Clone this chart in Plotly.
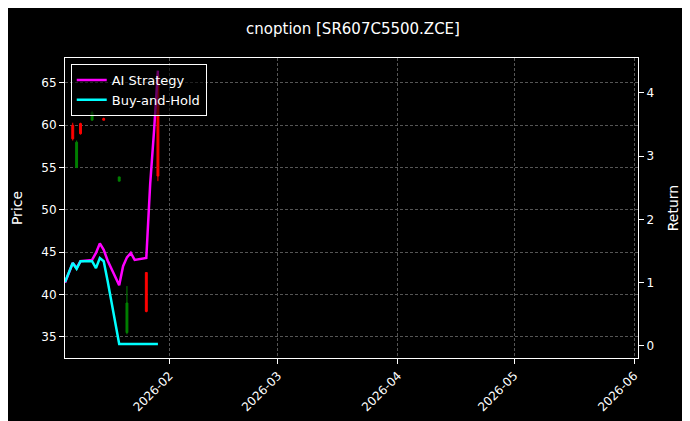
import plotly.graph_objects as go

# candles (only days with visible bars)
c_dates = ["2026-01-07", "2026-01-08", "2026-01-09", "2026-01-12", "2026-01-15",
           "2026-01-19", "2026-01-21", "2026-01-26", "2026-01-29"]
c_open = [60.0, 55.0, 60.2, 60.6, 60.8, 53.4, 35.5, 42.6, 66.0]
c_high = [60.3, 58.2, 60.3, 61.7, 60.9, 53.9, 41.0, 42.6, 66.4]
c_low = [58.2, 55.0, 58.9, 60.6, 60.6, 53.4, 35.3, 37.9, 53.4]
c_close = [58.4, 58.0, 59.0, 61.5, 60.6, 53.9, 39.0, 38.0, 54.0]

r_dates = ["2026-01-05", "2026-01-06", "2026-01-07", "2026-01-08", "2026-01-09",
           "2026-01-12", "2026-01-13", "2026-01-14", "2026-01-15", "2026-01-16",
           "2026-01-19", "2026-01-20", "2026-01-21", "2026-01-22", "2026-01-23",
           "2026-01-26", "2026-01-27", "2026-01-28", "2026-01-29"]
ai_ret = [1.0, 1.15, 1.31, 1.23, 1.34, 1.36, 1.47, 1.62, 1.52, 1.35,
          0.96, 1.26, 1.40, 1.47, 1.36, 1.39, 2.56, 3.4, 4.35]
bh_ret = [1.01, 1.15, 1.31, 1.22, 1.34, 1.34, 1.23, 1.39, 1.34, 1.03,
          0.03, 0.03, 0.03, 0.03, 0.03, 0.03, 0.03, 0.03, 0.03]

fig = go.Figure()
fig.add_trace(go.Candlestick(
    x=c_dates, open=c_open, high=c_high, low=c_low, close=c_close,
    increasing=dict(line=dict(color="green", width=1), fillcolor="green"),
    decreasing=dict(line=dict(color="red", width=1), fillcolor="red"),
    showlegend=False, whiskerwidth=0))
fig.add_trace(go.Scatter(x=r_dates, y=ai_ret, name="AI Strategy", yaxis="y2",
                         mode="lines", line=dict(color="#ff00ff", width=2.5)))
fig.add_trace(go.Scatter(x=r_dates, y=bh_ret, name="Buy-and-Hold", yaxis="y2",
                         mode="lines", line=dict(color="#00ffff", width=2.5)))

grid = dict(showgrid=True, gridcolor="#555", griddash="3px,2px", gridwidth=0.6,
            showline=True, linecolor="white", ticks="outside", tickcolor="white",
            zeroline=False, automargin=False)
fig.update_layout(
    width=690, height=421,
    paper_bgcolor="black", plot_bgcolor="black",
    font=dict(family="DejaVu Sans", color="white", size=12),
    title=dict(text="cnoption [SR607C5500.ZCE]", x=0.5, y=0.95, yanchor="middle",
               font=dict(size=15), automargin=False),
    margin=dict(l=57, r=60, t=50, b=71, autoexpand=False),
    xaxis=dict(grid, range=["2026-01-05", "2026-06-02"], mirror=True,
               rangeslider=dict(visible=False), tickangle=-45,
               dtick="M1", tickformat="%Y-%m", tick0="2026-02-01"),
    yaxis=dict(grid, title="Price", range=[32.5, 67.95], dtick=5, mirror=True),
    yaxis2=dict(title="Return", overlaying="y", side="right", range=[-0.19, 4.55],
                dtick=1, showgrid=False, showline=True, linecolor="white",
                ticks="outside", tickcolor="white", zeroline=False, automargin=False),
    legend=dict(x=0.01, y=0.98, bgcolor="rgba(0,0,0,0.6)", bordercolor="white",
                borderwidth=1, font=dict(size=13)),
)
fig.write_html("out.html")
